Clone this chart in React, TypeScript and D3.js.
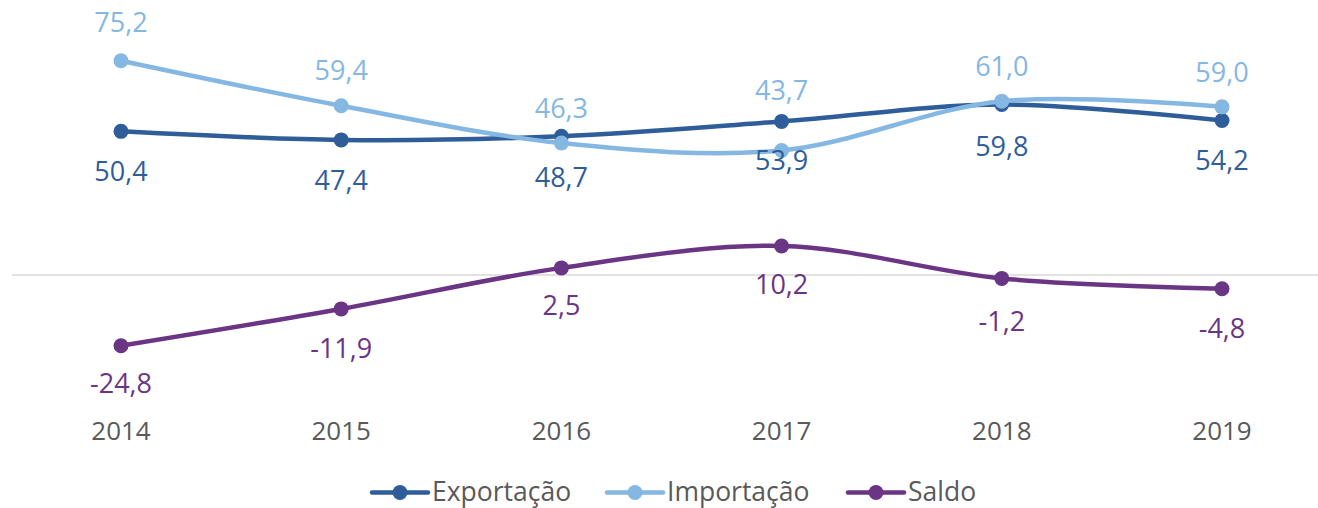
import React from "react";
import * as d3 from "d3";

const years = ["2014", "2015", "2016", "2017", "2018", "2019"];
const exportacao = [50.4, 47.4, 48.7, 53.9, 59.8, 54.2];
const importacao = [75.2, 59.4, 46.3, 43.7, 61.0, 59.0];
const saldo = [-24.8, -11.9, 2.5, 10.2, -1.2, -4.8];

const W = 1318;
const H = 508;
const FONT = "'Open Sans', 'Noto Sans', sans-serif";

const series = [
  { name: "Exportação", values: exportacao, color: "#2E5D99", labelDy: [40, 41, 41, 39, 42, 40] },
  { name: "Importação", values: importacao, color: "#85B7E3", labelDy: [-38, -35, -34, -60, -35, -34] },
  { name: "Saldo", values: saldo, color: "#6A3584", labelDy: [38, 40, 38, 39, 43, 40] },
];

const fmt = (v: number) => v.toFixed(1).replace(".", ",");

export default function App() {
  const x = d3.scalePoint<string>().domain(years).range([121, 1222]);
  const y = d3.scaleLinear().domain([-30, 80]).range([360.5, 47]);
  const line = d3
    .line<number>()
    .x((_, i) => x(years[i]) as number)
    .y((d) => y(d))
    .curve(d3.curveCardinal.tension(0));

  const legendItems = [
    { lx: 372, tx: 432 },
    { lx: 607, tx: 667 },
    { lx: 848, tx: 908 },
  ];

  return (
    <svg width={W} height={H} style={{ position: "absolute", left: 0, top: 0, background: "#fff" }}>
      <line x1={12} x2={W} y1={y(0)} y2={y(0)} stroke="#D9D9D9" strokeWidth={1.5} />
      {series.map((s) => (
        <g key={s.name}>
          <path d={line(s.values) || ""} fill="none" stroke={s.color} strokeWidth={4.5} strokeLinecap="round" />
          {s.values.map((v, i) => (
            <circle key={i} cx={x(years[i])} cy={y(v)} r={7.5} fill={s.color} />
          ))}
        </g>
      ))}
      {series.map((s) =>
        s.values.map((v, i) => (
          <text
            key={s.name + i}
            x={x(years[i])}
            y={y(v) + s.labelDy[i]}
            dy="0.35em"
            textAnchor="middle"
            fontFamily={FONT}
            fontSize={27}
            fill={s.color}
          >
            {fmt(v)}
          </text>
        ))
      )}
      {years.map((yr) => (
        <text
          key={yr}
          x={x(yr)}
          y={430.5}
          dy="0.35em"
          textAnchor="middle"
          fontFamily={FONT}
          fontSize={26}
          fill="#595959"
        >
          {yr}
        </text>
      ))}
      {series.map((s, i) => (
        <g key={"lg" + s.name}>
          <line x1={legendItems[i].lx} x2={legendItems[i].lx + 56} y1={492.5} y2={492.5} stroke={s.color} strokeWidth={4.5} strokeLinecap="round" />
          <circle cx={legendItems[i].lx + 28} cy={492.5} r={7.5} fill={s.color} />
          <text x={legendItems[i].tx} y={500.5} fontFamily={FONT} fontSize={26.5} fill="#595959">
            {s.name}
          </text>
        </g>
      ))}
    </svg>
  );
}
